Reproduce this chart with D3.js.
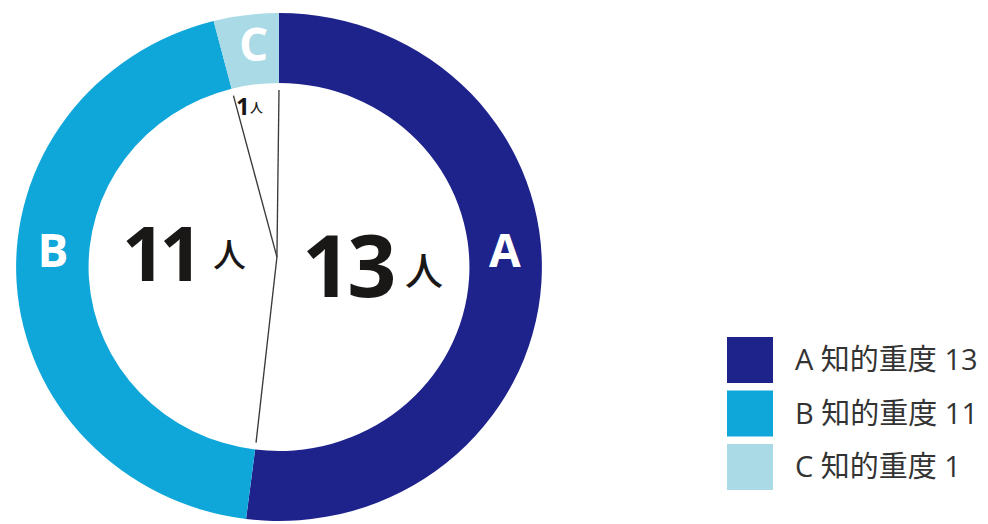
<!DOCTYPE html>
<html><head><meta charset="utf-8">
<script src="https://cdn.jsdelivr.net/npm/d3@7"></script>
<style>body{margin:0;background:#fff}svg{display:block}</style>
</head><body>
<svg id="c" width="988" height="524"></svg>
<script>
const categories = ["A", "B", "C"];
const values = [13, 11, 1];
const legendLabels = ["A 知的重度 13", "B 知的重度 11", "C 知的重度 1"];
const countLabels = ["13", "11", "1"];
const unitLabel = "人";
const colors = ["#1e238c", "#0fa6da", "#a9dae6"];

const svg = d3.select("#c");
const cx = 279, cy = 267, R = 254, r = 184, sx = 1.035;
const color = d3.scaleOrdinal().domain(categories).range(colors);
const pie = d3.pie().sort(null).value(d => d.v);
const data = pie(categories.map((c, i) => ({c, v: values[i], lab: countLabels[i]})));
const arc = d3.arc().innerRadius(r).outerRadius(R);

const g = svg.append("g").attr("transform", `translate(${cx},${cy}) scale(${sx},1)`);
g.selectAll("path.s").data(data).join("path").attr("class", "s")
  .attr("d", arc).attr("fill", d => color(d.data.c));

// ring letters (placed at the ring's middle radius, A/B lifted to the horizontal band)
const mR = (r + R) / 2;
const letterPos = d => {
  const a = (d.startAngle + d.endAngle) / 2;
  if (d.data.c === "C") return [Math.sin(a) * mR + 3, -Math.cos(a) * mR - 5];
  const y = -17;
  const x = Math.sign(Math.sin(a)) * Math.sqrt(mR * mR - y * y);
  return [x, y];
};
g.selectAll("text.k").data(data).join("text").attr("class", "k")
  .attr("transform", d => { const p = letterPos(d); return `translate(${p[0]},${p[1]}) scale(${1/sx},1)`; })
  .attr("text-anchor", "middle").attr("dy", "0.36em")
  .attr("font-family", "'Open Sans', sans-serif").attr("font-weight", 700)
  .attr("font-size", 46).attr("fill", "#fff")
  .text(d => d.data.c);

// separator lines inside
const jx = -2, jy = -10;
const bounds = data.map(d => d.startAngle);
g.selectAll("line.sep").data(bounds).join("line").attr("class", "sep")
  .attr("x1", jx).attr("y1", jy)
  .attr("x2", a => Math.sin(a) * (r - 7))
  .attr("y2", a => -Math.cos(a) * (r - 7))
  .attr("stroke", "#3a3a3a").attr("stroke-width", 1.3);

// center counts
const ffN = "'Open Sans', sans-serif";
const ffU = "'Noto Sans CJK JP', sans-serif";
const big = svg.append("g").attr("fill", "#1a1717");
function count(x, y, num, fsN, ls, ux, uy, fsU, wU) {
  big.append("text").attr("x", x).attr("y", y)
    .attr("font-family", ffN).attr("font-weight", 700).attr("font-size", fsN)
    .attr("letter-spacing", ls).text(num);
  big.append("text").attr("x", ux).attr("y", uy)
    .attr("font-family", ffU).attr("font-weight", wU).attr("font-size", fsU).text(unitLabel);
}
count(302, 297, data[0].data.lab, 86, -4, 405, 285, 38, 500);
count(122, 281, data[1].data.lab, 76, -6, 213, 267, 33, 500);
count(236, 115, data[2].data.lab, 24, 0, 250, 112, 13, 500);

// legend
const leg = svg.append("g").attr("transform", "translate(727,337)");
const ly = d3.scaleBand().domain(categories).range([0, 153]).paddingInner(0.14);
leg.selectAll("rect").data(categories).join("rect")
  .attr("x", 0).attr("y", d => ly(d)).attr("width", 46).attr("height", ly.bandwidth())
  .attr("fill", d => color(d));
leg.selectAll("text").data(categories).join("text")
  .attr("x", 68).attr("y", d => ly(d) + ly.bandwidth() / 2).attr("dy", "0.36em")
  .attr("font-family", "'Open Sans', 'Noto Sans CJK JP', sans-serif").attr("font-size", 29).attr("fill", "#333")
  .text((d, i) => legendLabels[i]);
</script>
</body></html>
